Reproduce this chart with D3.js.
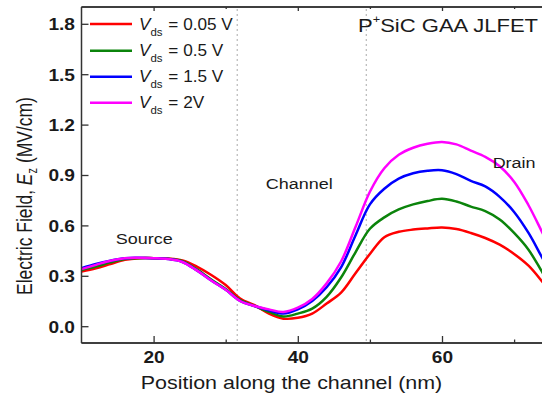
<!DOCTYPE html>
<html>
<head>
<meta charset="utf-8">
<script src="https://cdn.jsdelivr.net/npm/d3@7"></script>
<style>
  html, body { margin: 0; padding: 0; background: #fff; overflow: hidden; }
  text { font-family: "Liberation Sans", Arial, Helvetica, sans-serif; fill: #1a1a1a; }
</style>
</head>
<body>
<svg id="chart" width="542" height="398"></svg>
<script>
// Position along the channel (nm)
const positions = [10, 12, 14, 16, 18, 20, 22, 24, 26, 28, 30, 32, 34, 36, 38, 40, 42, 44, 46, 48,
                   50, 52, 54, 56, 58, 60, 62, 64, 66, 68, 70, 72, 74, 76];

// Longitudinal electric field Ez (MV/cm) for each drain bias
const fieldVds005 = [0.325, 0.345, 0.370, 0.395, 0.405, 0.405, 0.403, 0.392, 0.355, 0.305, 0.245, 0.165, 0.125, 0.075, 0.045, 0.050, 0.075, 0.135, 0.200, 0.315,
                     0.430, 0.530, 0.562, 0.575, 0.582, 0.587, 0.578, 0.555, 0.525, 0.485, 0.430, 0.360, 0.260, 0.150];
const fieldVds05  = [0.335, 0.355, 0.380, 0.400, 0.405, 0.405, 0.401, 0.387, 0.338, 0.278, 0.222, 0.155, 0.120, 0.085, 0.058, 0.075, 0.105, 0.175, 0.290, 0.440,
                     0.580, 0.648, 0.695, 0.725, 0.745, 0.758, 0.742, 0.712, 0.685, 0.635, 0.555, 0.455, 0.315, 0.180];
const fieldVds15  = [0.345, 0.370, 0.390, 0.405, 0.407, 0.405, 0.400, 0.382, 0.332, 0.272, 0.217, 0.150, 0.120, 0.095, 0.075, 0.100, 0.150, 0.232, 0.350, 0.540,
                     0.725, 0.818, 0.878, 0.910, 0.925, 0.928, 0.905, 0.865, 0.832, 0.770, 0.680, 0.555, 0.400, 0.250];
const fieldVds2   = [0.340, 0.365, 0.390, 0.405, 0.407, 0.405, 0.400, 0.382, 0.332, 0.272, 0.217, 0.150, 0.120, 0.100, 0.085, 0.110, 0.162, 0.255, 0.385, 0.590,
                     0.800, 0.940, 1.020, 1.062, 1.086, 1.097, 1.082, 1.045, 1.008, 0.952, 0.860, 0.720, 0.550, 0.380];

const biasLabels = ["= 0.05 V", "= 0.5 V", "= 1.5 V", "= 2V"];
const xTicks = [20, 40, 60];
const xMinorTicks = [30, 50, 70];
const yTicks = [0.0, 0.3, 0.6, 0.9, 1.2, 1.5, 1.8];
const regionBounds = [31.6, 49.5];
const regionNames = [
  { name: "Source",  x: 18.7, y: 0.489 },
  { name: "Channel", x: 40.2, y: 0.815 },
  { name: "Drain",   x: 70.0, y: 0.942 }
];

const series = [fieldVds005, fieldVds05, fieldVds15, fieldVds2];
const colors = ["#ff0000", "#0b840b", "#0000ff", "#ff00ff"];

// Glyphs in this figure are slightly wide relative to their height
const SX = 1.16;

const svg = d3.select("#chart");
const plotLeft = 81.5, plotTop = 7, plotBottom = 343, pxPerNm = 7.21;

const x = d3.scaleLinear().domain([10, 80]).range([plotLeft, plotLeft + 70 * pxPerNm]);
const y = d3.scaleLinear().domain([-0.1, 1.9]).range([plotBottom, plotTop]);

svg.append("defs").append("clipPath").attr("id", "plotClip")
  .append("rect").attr("x", plotLeft).attr("y", plotTop)
  .attr("width", 542 - plotLeft).attr("height", plotBottom - plotTop);

// Region boundaries (dotted)
svg.append("g").selectAll("line").data(regionBounds).join("line")
  .attr("x1", d => x(d)).attr("x2", d => x(d))
  .attr("y1", plotTop + 2).attr("y2", plotBottom - 2)
  .attr("stroke", "#b8b8b8").attr("stroke-width", 1.2)
  .attr("stroke-dasharray", "2,3");

// Field profiles
const line = d3.line()
  .x((d, i) => x(positions[i]))
  .y(d => y(d))
  .curve(d3.curveCatmullRom.alpha(0.5));

svg.append("g").attr("clip-path", "url(#plotClip)")
  .selectAll("path").data(series).join("path")
  .attr("d", d => line(d))
  .attr("fill", "none")
  .attr("stroke", (d, i) => colors[i])
  .attr("stroke-width", 2.5)
  .attr("stroke-linejoin", "round");

// Axes
const axisColor = "#333";
const xAxis = svg.append("g").attr("transform", `translate(0,${plotBottom})`)
  .call(d3.axisBottom(x).tickValues(xTicks).tickSizeInner(-7).tickSizeOuter(0).tickPadding(11).tickFormat(d3.format("d")));
const xMinor = svg.append("g").attr("transform", `translate(0,${plotBottom})`)
  .call(d3.axisBottom(x).tickValues(xMinorTicks).tickSizeInner(-3.5).tickSizeOuter(0).tickFormat(""));
const xTop = svg.append("g").attr("transform", `translate(0,${plotTop})`)
  .call(d3.axisTop(x).tickValues(xTicks).tickSizeInner(-4).tickSizeOuter(0).tickFormat(""));
const xTopMinor = svg.append("g").attr("transform", `translate(0,${plotTop})`)
  .call(d3.axisTop(x).tickValues(xMinorTicks).tickSizeInner(-2).tickSizeOuter(0).tickFormat(""));
const yAxis = svg.append("g").attr("transform", `translate(${plotLeft},0)`)
  .call(d3.axisLeft(y).tickValues(yTicks).tickSizeInner(-7).tickSizeOuter(0).tickPadding(7).tickFormat(d3.format(".1f")));

[xAxis, xMinor, xTop, xTopMinor, yAxis].forEach(g => {
  g.select(".domain").attr("stroke", axisColor).attr("stroke-width", 1.5);
  g.selectAll(".tick line").attr("stroke", axisColor).attr("stroke-width", 1.3);
});
[xAxis, xMinor, xTop, xTopMinor].forEach(g => g.select(".domain").attr("d", `M${plotLeft},0H542`));
yAxis.select(".domain").attr("d", `M0,${plotTop}V${plotBottom}`);

xAxis.selectAll(".tick text")
  .attr("font-size", 16.5).attr("font-weight", "bold").attr("fill", "#1a1a1a")
  .attr("y", 20).attr("dy", 0)
  .attr("transform", `scale(${SX},1)`);
yAxis.selectAll(".tick text")
  .attr("font-size", 16.5).attr("font-weight", "bold").attr("fill", "#1a1a1a")
  .attr("x", -6.5 / SX).attr("dy", "0.36em")
  .attr("transform", `scale(${SX},1)`);

// Helper: stretched text anchored at a point
function label(px, py, anchor, size, sx = SX) {
  return svg.append("g").attr("transform", `translate(${px},${py}) scale(${sx},1)`)
    .append("text").attr("text-anchor", anchor).attr("font-size", size);
}

// Axis titles
label((139 + 444) / 2, 389, "middle", 18.5).text("Position along the channel (nm)");

const yTitle = svg.append("g").attr("transform", `translate(32,196) rotate(-90) scale(1,1.3)`)
  .append("text").attr("text-anchor", "middle").attr("font-size", 17.5);
yTitle.append("tspan").text("Electric Field, ");
yTitle.append("tspan").attr("font-style", "italic").text("E");
yTitle.append("tspan").attr("font-size", 11).attr("dy", 4).text("z");
yTitle.append("tspan").attr("dy", -4).text(" (MV/cm)");

// Figure title
const title = label(358, 32, "start", 19);
title.append("tspan").text("P");
title.append("tspan").attr("font-size", 11).attr("dy", -9).text("+");
title.append("tspan").attr("dy", 9).text("SiC GAA JLFET");

// Region names
regionNames.forEach(r => {
  label(x(r.x), y(r.y), "middle", 15.5).text(r.name);
});

// Legend
const legendRows = [24, 50.7, 76.7, 102.7];
biasLabels.forEach((lab, i) => {
  svg.append("line")
    .attr("x1", 90).attr("x2", 132)
    .attr("y1", legendRows[i]).attr("y2", legendRows[i])
    .attr("stroke", colors[i]).attr("stroke-width", 2.5);
  const t = label(139, legendRows[i] + 5.5, "start", 16.5, 1.04);
  t.append("tspan").attr("font-style", "italic").text("V");
  t.append("tspan").attr("font-size", 11).attr("dy", 6).text("ds");
  t.append("tspan").attr("dy", -6).attr("dx", 1).text(" " + lab);
});
</script>
</body>
</html>
